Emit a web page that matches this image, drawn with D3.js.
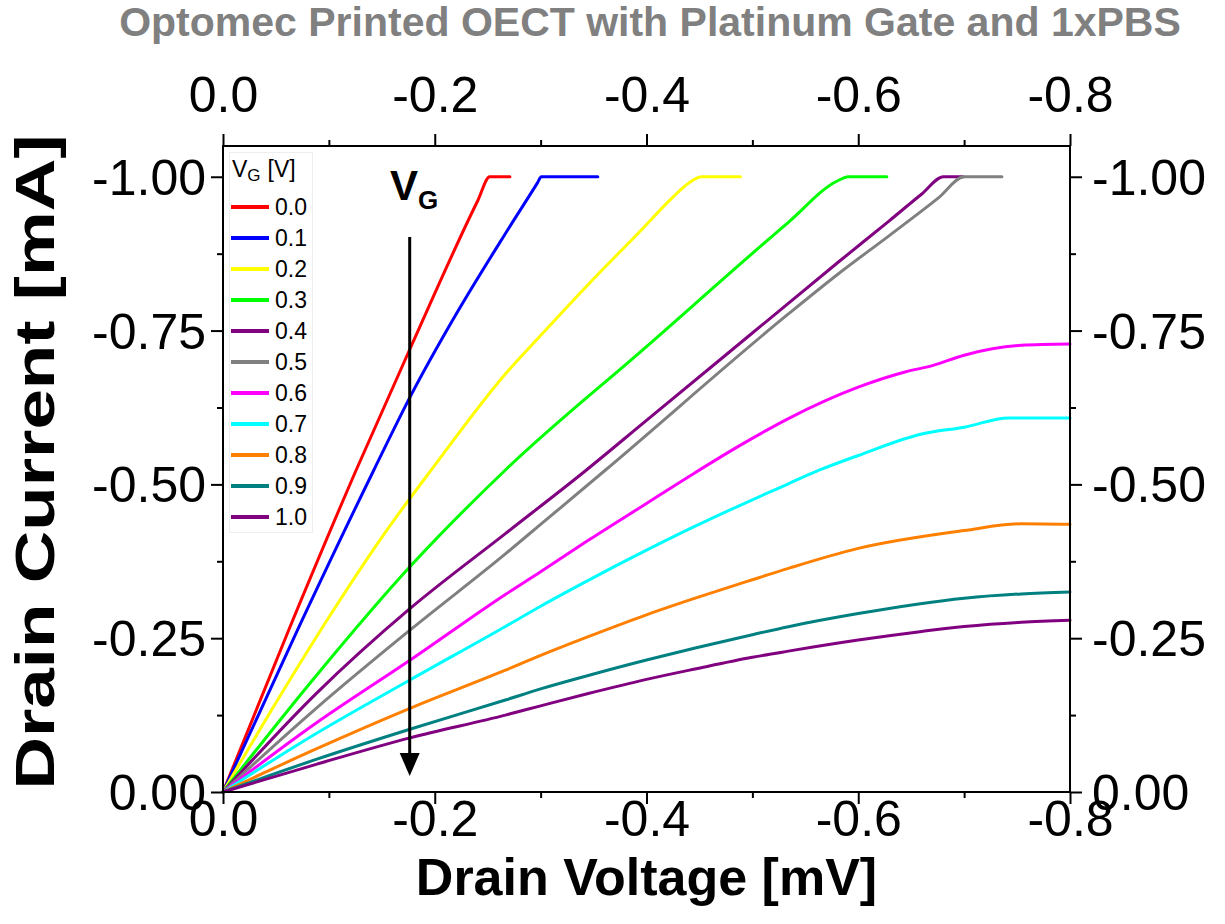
<!DOCTYPE html>
<html>
<head>
<meta charset="utf-8">
<script src="https://cdn.jsdelivr.net/npm/d3@7/dist/d3.min.js"></script>
<style>
  html, body { margin: 0; padding: 0; background: #fff; }
  svg { display: block; font-family: "Liberation Sans", Arial, sans-serif; }
</style>
</head>
<body>
<svg id="chart" width="1225" height="924"></svg>
<script>
// ---------------- DATA ----------------
const chartTitle = "Optomec Printed OECT with Platinum Gate and 1xPBS";
const xTitle = "Drain Voltage [mV]";
const yTitle = "Drain Current [mA]";
const gateLabels = ["0.0","0.1","0.2","0.3","0.4","0.5","0.6","0.7","0.8","0.9","1.0"];
const seriesColors = ["#FF0000","#0000FF","#FFFF00","#00FF00","#800080","#808080","#FF00FF","#00FFFF","#FF8000","#008080","#800080"];

const xMajorTicks = [0, -0.2, -0.4, -0.6, -0.8];
const xMinorTicks = [-0.1, -0.3, -0.5, -0.7];
const yMajorTicks = [0, -0.25, -0.5, -0.75, -1.0];
const yMinorTicks = [-0.125, -0.375, -0.625, -0.875];

// [drain voltage (V), drain current (mA)]
const vg00 = [[0,0],[-0.062,-0.263],[-0.1257,-0.523],[-0.1755,-0.716],[-0.2406,-0.961],[-0.252,-1.0],[-0.271,-1.0]];
const vg01 = [[0,0],[-0.07,-0.262],[-0.1424,-0.523],[-0.177,-0.643],[-0.22,-0.776],[-0.2665,-0.907],[-0.297,-0.99],[-0.3006,-1.0],[-0.354,-1.0]];
const vg02 = [[0,0],[-0.05,-0.145],[-0.1,-0.284],[-0.15,-0.414],[-0.2,-0.531],[-0.2665,-0.679],[-0.3,-0.742],[-0.345,-0.825],[-0.3926,-0.909],[-0.425,-0.967],[-0.440,-0.990],[-0.4524,-1.0],[-0.4887,-1.0]];
const vg03 = [[0,0],[-0.088,-0.189],[-0.1765,-0.366],[-0.2665,-0.523],[-0.4,-0.724],[-0.534,-0.926],[-0.5806,-0.9935],[-0.5905,-1.0],[-0.627,-1.0]];
const vg04 = [[0,0],[-0.088,-0.160],[-0.1765,-0.298],[-0.2667,-0.420],[-0.343,-0.523],[-0.4,-0.604],[-0.5,-0.746],[-0.581,-0.861],[-0.629,-0.928],[-0.660,-0.972],[-0.6805,-1.0],[-0.699,-1.0]];
const vg05 = [[0,0],[-0.088,-0.136],[-0.1765,-0.263],[-0.2667,-0.387],[-0.3,-0.435],[-0.361,-0.523],[-0.534,-0.777],[-0.581,-0.842],[-0.629,-0.904],[-0.676,-0.966],[-0.700,-1.0],[-0.7357,-1.0]];
const vg06 = [[0,0],[-0.088,-0.112],[-0.1765,-0.214],[-0.2667,-0.321],[-0.3,-0.358],[-0.345,-0.409],[-0.4,-0.469],[-0.444,-0.517],[-0.49,-0.565],[-0.534,-0.607],[-0.6,-0.658],[-0.645,-0.683],[-0.67,-0.693],[-0.7,-0.710],[-0.754,-0.726],[-0.8,-0.728]];
const vg07 = [[0,0],[-0.088,-0.095],[-0.1765,-0.182],[-0.2667,-0.269],[-0.3,-0.302],[-0.345,-0.344],[-0.4,-0.393],[-0.446,-0.432],[-0.5,-0.475],[-0.534,-0.501],[-0.563,-0.523],[-0.6,-0.547],[-0.66,-0.582],[-0.7,-0.593],[-0.742,-0.608],[-0.8,-0.608]];
const vg08 = [[0,0],[-0.088,-0.070],[-0.1765,-0.136],[-0.2667,-0.198],[-0.3,-0.222],[-0.345,-0.2525],[-0.4,-0.288],[-0.446,-0.315],[-0.5,-0.345],[-0.534,-0.3635],[-0.6,-0.396],[-0.7,-0.425],[-0.754,-0.436],[-0.8,-0.435]];
const vg09 = [[0,0],[-0.088,-0.053],[-0.1765,-0.102],[-0.2667,-0.1495],[-0.3,-0.1676],[-0.345,-0.1894],[-0.4,-0.2145],[-0.446,-0.234],[-0.5,-0.2557],[-0.534,-0.2687],[-0.6,-0.290],[-0.7,-0.315],[-0.754,-0.322],[-0.8,-0.325]];
const vg10 = [[0,0],[-0.088,-0.045],[-0.1765,-0.088],[-0.2667,-0.125],[-0.3,-0.140],[-0.345,-0.160],[-0.4,-0.183],[-0.446,-0.200],[-0.5,-0.219],[-0.534,-0.229],[-0.6,-0.247],[-0.66,-0.261],[-0.7,-0.269],[-0.754,-0.276],[-0.8,-0.279]];

const allSeries = [vg00, vg01, vg02, vg03, vg04, vg05, vg06, vg07, vg08, vg09, vg10];

// ---------------- LAYOUT ----------------
const svg = d3.select("#chart");
const L = 223, R = 1070, T = 146, B = 792;
const x = d3.scaleLinear().domain([0, -0.8]).range([L, R]);
const y = d3.scaleLinear().domain([0, -1.05]).range([B, T]);
const FONT = "'Liberation Sans', Arial, sans-serif";

svg.append("rect").attr("width", 1225).attr("height", 924).attr("fill", "#fff");

// title
svg.append("text").attr("x", 650).attr("y", 36).attr("text-anchor", "middle")
  .attr("font-size", 41).attr("font-weight", "bold").attr("fill", "#808080")
  .text(chartTitle);

// series
const line = d3.line().x(d => x(d[0])).y(d => y(d[1])).curve(d3.curveMonotoneX);
allSeries.forEach((s, i) => {
  svg.append("path").datum(s).attr("d", line)
    .attr("fill", "none").attr("stroke", seriesColors[i])
    .attr("stroke-width", 3).attr("stroke-linejoin", "round").attr("stroke-linecap", "round");
});

// axes
const fmtX = d => (Math.abs(d) < 1e-9 ? "0.0" : d.toFixed(1));
const fmtY = d => (Math.abs(d) < 1e-9 ? "0.00" : d.toFixed(2));

function styleAxis(g) {
  g.select(".domain").remove();
  g.selectAll(".tick line").attr("stroke", "#000").attr("stroke-width", 2);
  g.selectAll("text").attr("font-size", 50).attr("font-family", FONT).attr("fill", "#000");
}

const gB = svg.append("g").attr("transform", `translate(0,${B})`)
  .call(d3.axisBottom(x).tickValues(xMajorTicks).tickSize(12).tickSizeOuter(0).tickFormat(fmtX));
styleAxis(gB); gB.selectAll("text").attr("dy", null).attr("y", 44);
const gBm = svg.append("g").attr("transform", `translate(0,${B})`)
  .call(d3.axisBottom(x).tickValues(xMinorTicks).tickSize(6).tickSizeOuter(0).tickFormat(""));
styleAxis(gBm);

const gT = svg.append("g").attr("transform", `translate(0,${T})`)
  .call(d3.axisTop(x).tickValues(xMajorTicks).tickSize(12).tickSizeOuter(0).tickFormat(fmtX));
styleAxis(gT); gT.selectAll("text").attr("dy", null).attr("y", -34);
const gTm = svg.append("g").attr("transform", `translate(0,${T})`)
  .call(d3.axisTop(x).tickValues(xMinorTicks).tickSize(6).tickSizeOuter(0).tickFormat(""));
styleAxis(gTm);

const gL = svg.append("g").attr("transform", `translate(${L},0)`)
  .call(d3.axisLeft(y).tickValues(yMajorTicks).tickSize(12).tickSizeOuter(0).tickFormat(fmtY));
styleAxis(gL); gL.selectAll("text").attr("x", -17).attr("dy", "0.35em");
const gLm = svg.append("g").attr("transform", `translate(${L},0)`)
  .call(d3.axisLeft(y).tickValues(yMinorTicks).tickSize(6).tickSizeOuter(0).tickFormat(""));
styleAxis(gLm);

const gR = svg.append("g").attr("transform", `translate(${R},0)`)
  .call(d3.axisRight(y).tickValues(yMajorTicks).tickSize(12).tickSizeOuter(0).tickFormat(fmtY));
styleAxis(gR); gR.selectAll("text").attr("x", 22).attr("dy", "0.35em");
const gRm = svg.append("g").attr("transform", `translate(${R},0)`)
  .call(d3.axisRight(y).tickValues(yMinorTicks).tickSize(6).tickSizeOuter(0).tickFormat(""));
styleAxis(gRm);

// frame
svg.append("rect").attr("x", L).attr("y", T).attr("width", R - L).attr("height", B - T)
  .attr("fill", "none").attr("stroke", "#000").attr("stroke-width", 2);

// axis titles
svg.append("text").attr("x", (L + R) / 2).attr("y", 895).attr("text-anchor", "middle")
  .attr("font-size", 52).attr("font-weight", "bold").attr("font-family", FONT).text(xTitle);
svg.append("text").attr("transform", `translate(54,462) rotate(-90)`)
  .attr("text-anchor", "middle").attr("textLength", 655).attr("lengthAdjust", "spacingAndGlyphs")
  .attr("font-size", 55).attr("font-weight", "bold").attr("font-family", FONT).text(yTitle);

// legend
const leg = svg.append("g");
leg.append("rect").attr("x", 229.5).attr("y", 152.5).attr("width", 83).attr("height", 380)
  .attr("fill", "#fff").attr("stroke", "#eeeeee").attr("stroke-width", 1);
const hdr = leg.append("text").attr("x", 232).attr("y", 177).attr("font-size", 23).attr("font-family", FONT);
hdr.append("tspan").text("V");
hdr.append("tspan").attr("font-size", 17).attr("dy", 4).text("G");
hdr.append("tspan").attr("dy", -4).attr("dx", 7).text("[V]");
gateLabels.forEach((lab, i) => {
  const cy = 207 + i * 31;
  leg.append("line").attr("x1", 231).attr("x2", 269).attr("y1", cy).attr("y2", cy)
    .attr("stroke", seriesColors[i]).attr("stroke-width", 4);
  leg.append("text").attr("x", 275).attr("y", cy).attr("dy", "0.36em")
    .attr("font-size", 23).attr("font-family", FONT).text(lab);
});

// VG annotation arrow
const ax = 409.7;
svg.append("line").attr("x1", ax).attr("x2", ax).attr("y1", 237).attr("y2", 760)
  .attr("stroke", "#000").attr("stroke-width", 3);
svg.append("path").attr("d", `M${ax - 10},753 L${ax + 10},753 L${ax},776 Z`).attr("fill", "#000");
const vg = svg.append("text").attr("x", 390).attr("y", 200).attr("font-family", FONT);
vg.append("tspan").attr("font-size", 42).attr("font-weight", "bold").text("V");
vg.append("tspan").attr("font-size", 26).attr("font-weight", "bold").attr("dy", 9).text("G");
</script>
</body>
</html>
